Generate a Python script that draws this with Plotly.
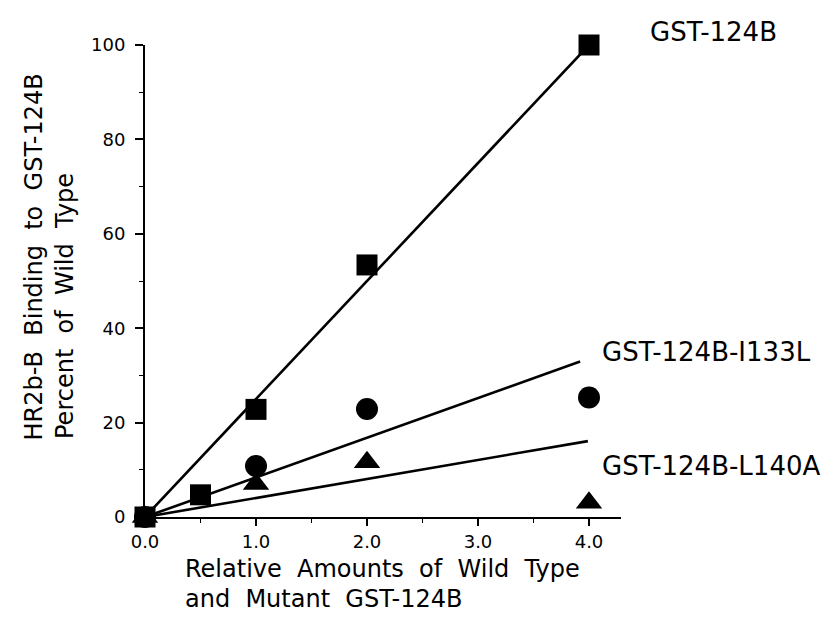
import plotly.graph_objects as go

# ---- data ----
wt_x = [0.0, 0.5, 1.0, 2.0, 4.0]
wt_binding = [0.0, 4.7, 22.8, 53.4, 100.0]        # GST-124B (squares)
i133l_x = [0.0, 1.0, 2.0, 4.0]
i133l_binding = [0.0, 10.8, 22.9, 25.3]           # GST-124B-I133L (circles)
l140a_x = [0.0, 1.0, 2.0, 4.0]
l140a_binding = [0.0, 7.0, 11.6, 3.0]             # GST-124B-L140A (triangles)

# fitted lines (through origin): x extent, slope
wt_fit = {"x": [0.0, 4.0], "slope": 25.0}
i133l_fit = {"x": [0.0, 3.92], "slope": 8.4}
l140a_fit = {"x": [0.0, 3.99], "slope": 4.03}

x_tick_vals = [0.0, 1.0, 2.0, 3.0, 4.0]
x_tick_text = ["0.0", "1.0", "2.0", "3.0", "4.0"]
y_tick_vals = [0, 20, 40, 60, 80, 100]

series_labels = ["GST-124B", "GST-124B-I133L", "GST-124B-L140A"]

FONT = "DejaVu Sans"

# ---- figure geometry (pixels) ----
W, H = 836, 617
L, R, T, B = 137, 223, 37, 108
pw, ph = W - L - R, H - T - B
x_max = pw / 111.0

def px(xp):
    return (xp - L) / pw

def py(yp):
    return (H - B - yp) / ph

fig = go.Figure()

for fit in (wt_fit, i133l_fit, l140a_fit):
    fig.add_trace(go.Scatter(
        x=fit["x"], y=[fit["slope"] * v for v in fit["x"]],
        mode="lines", line=dict(color="black", width=2.6),
        showlegend=False, hoverinfo="skip", cliponaxis=False))

for xs, ys, sym, sz in ((i133l_x, i133l_binding, "circle", 22),
                        (l140a_x, l140a_binding, "triangle-up", 23),
                        (wt_x, wt_binding, "square", 21)):
    fig.add_trace(go.Scatter(
        x=xs, y=ys, mode="markers",
        marker=dict(symbol=sym, size=sz, color="black", line=dict(width=0)),
        showlegend=False, cliponaxis=False))

fig.update_layout(
    width=W, height=H,
    margin=dict(l=L, r=R, t=T, b=B),
    paper_bgcolor="white", plot_bgcolor="white",
    font=dict(family=FONT, color="black", size=18),
)

fig.update_xaxes(
    range=[0, x_max], showgrid=False, zeroline=False,
    showline=True, linecolor="black", linewidth=2,
    ticks="outside", ticklen=7, tickwidth=2, tickcolor="black",
    tickvals=x_tick_vals, ticktext=x_tick_text,
    tickfont=dict(size=18, family=FONT),
    minor=dict(ticks="outside", ticklen=4, tickwidth=1, tickcolor="black", dtick=0.5, showgrid=False),
)
fig.update_yaxes(
    range=[0, 100], showgrid=False, zeroline=False,
    showline=True, linecolor="black", linewidth=2,
    ticks="outside", ticklen=8, tickwidth=2, tickcolor="black",
    tickvals=y_tick_vals,
    tickfont=dict(size=18, family=FONT),
    ticklabelstandoff=6,
    minor=dict(ticks="outside", ticklen=4, tickwidth=1, tickcolor="black", dtick=10, showgrid=False),
)

ann_font = dict(family=FONT, size=24, color="black")
lab_font = dict(family=FONT, size=26, color="black")

anns = [
    dict(text=series_labels[0], x=px(640), y=py(24), xanchor="left", yanchor="middle", font=lab_font),
    dict(text=series_labels[1], x=px(592), y=py(344), xanchor="left", yanchor="middle", font=lab_font),
    dict(text=series_labels[2], x=px(592), y=py(458), xanchor="left", yanchor="middle", font=lab_font),
    dict(text="Relative  Amounts  of  Wild  Type", x=px(175), y=py(561), xanchor="left", yanchor="middle", font=ann_font),
    dict(text="and  Mutant  GST-124B", x=px(175), y=py(591), xanchor="left", yanchor="middle", font=ann_font),
    dict(text="HR2b-B  Binding  to  GST-124B", x=px(25), y=py(435), xanchor="center", yanchor="bottom", textangle=-90, font=ann_font),
    dict(text="Percent  of  Wild  Type", x=px(57), y=py(433), xanchor="center", yanchor="bottom", textangle=-90, font=ann_font),
]
for a in anns:
    a.update(xref="paper", yref="paper", showarrow=False)
fig.update_layout(annotations=anns)

fig.write_html("out.html")
